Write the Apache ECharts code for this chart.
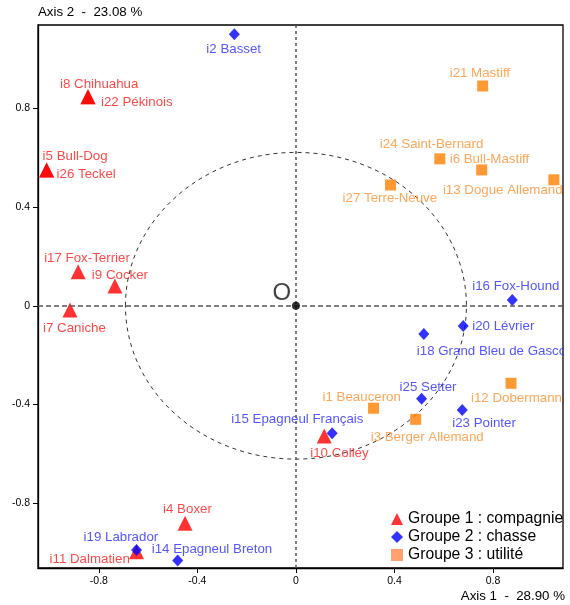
<!DOCTYPE html>
<html>
<head>
<meta charset="utf-8">
<script src="https://cdn.jsdelivr.net/npm/echarts@6/dist/echarts.min.js"></script>
<style>
html,body{margin:0;padding:0;background:#fff;}
#chart{width:570px;height:605px;}
</style>
</head>
<body>
<div id="chart"></div>
<script>
// ---- data ----
const g1Names = ['i8 Chihuahua','i22 Pékinois','i5 Bull-Dog','i26 Teckel','i17 Fox-Terrier','i9 Cocker','i7 Caniche','i10 Colley','i4 Boxer','i11 Dalmatien'];
const g1X = [-0.844,-0.844,-1.012,-1.012,-0.884,-0.735,-0.917,0.115,-0.450,-0.647];
const g1Y = [0.846,0.846,0.550,0.550,0.138,0.080,-0.017,-0.527,-0.881,-0.996];

const g2Names = ['i2 Basset','i16 Fox-Hound','i20 Lévrier','i18 Grand Bleu de Gascogne','i25 Setter','i23 Pointer','i15 Epagneul Français','i19 Labrador','i14 Epagneul Breton'];
const g2X = [-0.250,0.878,0.679,0.519,0.510,0.675,0.147,-0.647,-0.480];
const g2Y = [1.100,0.023,-0.082,-0.114,-0.377,-0.422,-0.516,-0.989,-1.032];

const g3Names = ['i21 Mastiff','i24 Saint-Bernard','i6 Bull-Mastiff','i13 Dogue Allemand','i27 Terre-Neuve','i12 Dobermann','i1 Beauceron','i3 Berger Allemand'];
const g3X = [0.758,0.584,0.754,1.047,0.384,0.873,0.315,0.486];
const g3Y = [0.890,0.595,0.550,0.510,0.489,-0.314,-0.415,-0.460];

const groupNames = ['Groupe 1 : compagnie','Groupe 2 : chasse','Groupe 3 : utilité'];
const xTicks = [-0.8,-0.4,0,0.4,0.8];
const yTicks = [-0.8,-0.4,0,0.4,0.8];
const axis1Title = 'Axis 1  -  28.90 %';
const axis2Title = 'Axis 2  -  23.08 %';
const origin = [0,0];
const circleRadii = [0.692, 0.621];

// ---- label placement (pixel offsets: start of text, vertical middle) ----
const labelOffsets = {
  'i2 Basset':[-28,15],'i8 Chihuahua':[-28,-13],'i22 Pékinois':[13,5],
  'i5 Bull-Dog':[-4,-14],'i26 Teckel':[10,4],'i17 Fox-Terrier':[-34,-13],
  'i9 Cocker':[-23,-11],'i7 Caniche':[-27,18],'i10 Colley':[-14,17],
  'i4 Boxer':[-22,-14],'i11 Dalmatien':[-87,8],
  'i16 Fox-Hound':[-40,-14],'i20 Lévrier':[9,0],'i18 Grand Bleu de Gascogne':[-7,17],
  'i25 Setter':[-22,-12],'i23 Pointer':[-10,13],'i15 Epagneul Français':[-101,-14],
  'i19 Labrador':[-53,-13],'i14 Epagneul Breton':[-26,-11],
  'i21 Mastiff':[-33,-13],'i24 Saint-Bernard':[-60,-15],'i6 Bull-Mastiff':[-32,-11],
  'i13 Dogue Allemand':[-111,11],'i27 Terre-Neuve':[-48,13],'i12 Dobermann':[-40,15],
  'i1 Beauceron':[-51,-11],'i3 Berger Allemand':[-45,18]
};

const FONT = 'Liberation Sans, Arial, sans-serif';

function buildData(names, xs, ys, textColor){
  return names.map((n,i)=>({
    name:n, value:[xs[i], ys[i]],
    label:{show:true, formatter:n, position:'inside', align:'left', verticalAlign:'middle',
      offset:labelOffsets[n]||[0,0], color:textColor, fontSize:13.3, fontFamily:FONT}
  }));
}

const chart = echarts.init(document.getElementById('chart'), null, {renderer:'canvas'});

const option = {
  animation:false,
  backgroundColor:'#fff',
  grid:{left:38, right:7, top:25, bottom:37, show:true, borderColor:'#000', borderWidth:1.3, backgroundColor:'transparent'},
  xAxis:{
    type:'value', min:-1.047, max:1.084,
    axisLine:{onZero:false, lineStyle:{color:'#000', width:1.3}},
    axisTick:{customValues:xTicks, length:5, lineStyle:{color:'#000'}},
    axisLabel:{customValues:xTicks, formatter:v=>String(v), fontSize:10.5, color:'#000', margin:8, fontFamily:FONT},
    splitLine:{show:false}
  },
  yAxis:{
    type:'value', min:-1.062, max:1.137,
    axisLine:{onZero:false, lineStyle:{color:'#000', width:1.3}},
    axisTick:{customValues:yTicks, length:5, lineStyle:{color:'#000'}},
    axisLabel:{customValues:yTicks, formatter:v=>String(v), fontSize:10.5, color:'#000', margin:8, fontFamily:FONT},
    splitLine:{show:false}
  },
  legend:{
    orient:'vertical', left:391, top:511, itemWidth:12, itemHeight:12, itemGap:2, padding:0,
    textStyle:{fontSize:15.7, color:'#000', fontFamily:FONT},
    data:[groupNames[0], groupNames[1], {name:groupNames[2], itemStyle:{color:'#ff8a4c'}}]
  },
  series:[
    {
      name:'origin', type:'scatter', data:[{value:origin, label:{show:true, formatter:'O', position:'inside', align:'center', verticalAlign:'middle', offset:[-14,-12], fontSize:24, color:'#111', fontFamily:FONT}}],
      symbol:'circle', symbolSize:8, itemStyle:{color:'#000'}, z:5, silent:true,
      markLine:{
        silent:true, symbol:['none','none'], label:{show:false},
        lineStyle:{color:'#555', width:1.5},
        data:[{xAxis:0, lineStyle:{type:[3,3], color:'#555', width:1.5}}, {yAxis:0, lineStyle:{type:[5,3], color:'#555', width:1.5}}]
      }
    },
    {name:groupNames[0], type:'scatter', symbol:'triangle', symbolSize:15, itemStyle:{color:'#ff0000'}, data:buildData(g1Names,g1X,g1Y,'#ff1a1a'), z:3},
    {name:groupNames[1], type:'scatter', symbol:'diamond', symbolSize:[11,12], itemStyle:{color:'#0000ff'}, data:buildData(g2Names,g2X,g2Y,'#2b2bff'), z:4},
    {name:groupNames[2], type:'scatter', symbol:'rect', symbolSize:11, itemStyle:{color:'#ff8000'}, data:buildData(g3Names,g3X,g3Y,'#ff9030'), z:3}
  ]
};
chart.setOption(option);

const c = chart.convertToPixel({gridIndex:0}, origin);
const p = chart.convertToPixel({gridIndex:0}, circleRadii);
chart.setOption({
  graphic:[
    {id:'ell', type:'ellipse', silent:true, z:1,
      shape:{cx:c[0], cy:c[1], rx:p[0]-c[0], ry:c[1]-p[1]},
      style:{fill:'none', stroke:'#333', lineWidth:1, lineDash:[4,4]}},
    {id:'mask', type:'rect', silent:true, z:100, left:564, top:0, shape:{width:6, height:568}, style:{fill:'#fff'}},
    {id:'t2', type:'text', left:38, top:6, z:100, style:{text:axis2Title, fill:'#000', font:'13.3px ' + FONT}},
    {id:'t1', type:'text', right:5, top:590, z:100, style:{text:axis1Title, fill:'#000', font:'13.3px ' + FONT}}
  ]
});
</script>
</body>
</html>
